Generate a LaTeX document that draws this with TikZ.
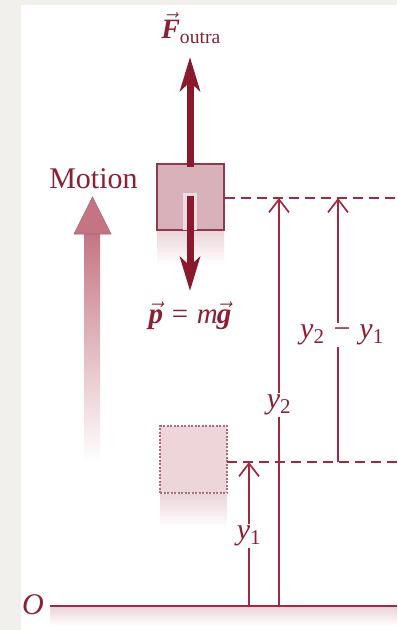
\documentclass[tikz,border=0pt]{standalone}
\usepackage{fix-cm}
\usepackage{fontspec}
\setmainfont{Liberation Serif}
\usetikzlibrary{arrows.meta}
\definecolor{bggray}{HTML}{F2F0EC}
\definecolor{dimred}{HTML}{A2293F}
\definecolor{forcered}{HTML}{8A1A2B}
\definecolor{txtred}{HTML}{8B2034}
\definecolor{boxfill}{HTML}{D9B1BA}
\definecolor{boxedge}{HTML}{8E3A4B}
\definecolor{ghostfill}{HTML}{EDD5DA}
\definecolor{ghostedge}{HTML}{A8707D}
\definecolor{motionred}{HTML}{C47483}
\definecolor{shadowpink}{HTML}{EBD5DA}
\definecolor{halo}{HTML}{EEDCE0}
\newcommand{\vecbf}[1]{\ensuremath{\vec{\mbox{\bfseries\itshape #1}}}}
\begin{document}
\begin{tikzpicture}[x=1pt,y=-1pt,
  dimline/.style={draw=dimred, line width=1.7pt},
  dimarrow/.style={dimline, -{Straight Barb[length=13pt,width=20pt]}},
  dashline/.style={dimline, dash pattern=on 10pt off 6pt},
  force/.style={draw=forcered, line width=7pt, -{Stealth[length=34pt,width=20pt,inset=9pt]}},
  lbl/.style={text=txtred, font=\fontsize{30}{34}\selectfont, inner sep=1pt},
  gaplbl/.style={lbl, fill=white, inner sep=2pt},
  solidbox/.style={draw=boxedge, fill=boxfill, line width=1.3pt, minimum width=67pt, minimum height=66pt, inner sep=0pt},
  ghostbox/.style={draw=ghostedge, fill=ghostfill, line width=1.2pt, dash pattern=on 2pt off 1.5pt, minimum width=67pt, minimum height=67pt, inner sep=0pt}
]
\useasboundingbox (0,0) rectangle (397,630);
\fill[bggray] (0,0) rectangle (397,630);
\fill[white] (21,5) rectangle (397,630);

% shadows
\shade[top color=shadowpink, bottom color=white] (50,607) rectangle (397,626);
\shade[top color=shadowpink, bottom color=white] (157,231) rectangle (224,265);
\shade[top color=shadowpink, bottom color=white] (160,494) rectangle (227,528);

% motion arrow
\shade[top color=motionred, middle color=motionred!75, bottom color=white] (84,232) rectangle (100,462);
\fill[motionred, draw=motionred!85!black, line width=0.6pt] (74,234) -- (92.5,197) -- (111,234) -- cycle;
\node[lbl] (motion) at (93.5,179) {Motion};

% boxes
\node[ghostbox] (box2) at (193.5,459.5) {};
\node[solidbox] (box1) at (190.5,197) {};
\fill[halo] (183,193) rectangle (197,230.3);

% forces
\coordinate (fbot) at (190,167);
\coordinate (ftop) at (190,57);
\coordinate (wtop) at (190,196);
\coordinate (wtip) at (190,291);
\draw[force] (fbot) -- (ftop);
\draw[force] (wtop) -- (wtip);
\node[lbl, font=\fontsize{28}{32}\selectfont] (flbl) at (191,28) {\vecbf{F}\textsubscript{outra}};
\node[lbl, font=\fontsize{29}{33}\selectfont] (plbl) at (190,316) {\vecbf{p}\hspace{0.3em}=\hspace{0.3em}{\itshape m}\kern-1pt\vecbf{g}};

% ground
\coordinate (gl) at (50,606);
\coordinate (gr) at (397,606);
\draw[dimline] (gl) -- (gr);
\node[lbl] (O) at (33,605) {\itshape O};

% dashed reference lines
\coordinate (d1s) at (224.5,198);
\coordinate (d1e) at (397,198);
\coordinate (d2s) at (227,462);
\coordinate (d2e) at (397,462);
\draw[dashline] (d1s) -- (d1e);
\draw[dashline] (d2s) -- (d2e);

% dimension lines
\coordinate (y1b) at (249,606);
\coordinate (y1t) at (249,462);
\coordinate (y2b) at (279,606);
\coordinate (y2t) at (279,198);
\coordinate (y3b) at (338,462);
\coordinate (y3t) at (338,198);
\draw[dimarrow] (y1b) -- (y1t);
\draw[dimarrow] (y2b) -- (y2t);
\draw[dimarrow] (y3b) -- (y3t);
\node[gaplbl] (y1l) at (249,536) {\itshape y\textsubscript{\upshape 1}};
\node[gaplbl] (y2l) at (279,405) {\itshape y\textsubscript{\upshape 2}};
\node[gaplbl] (y3l) at (342,335) {\itshape y\textsubscript{\upshape 2}\hspace{0.3em}\upshape −\hspace{0.3em}\itshape y\textsubscript{\upshape 1}};
\end{tikzpicture}
\end{document}
